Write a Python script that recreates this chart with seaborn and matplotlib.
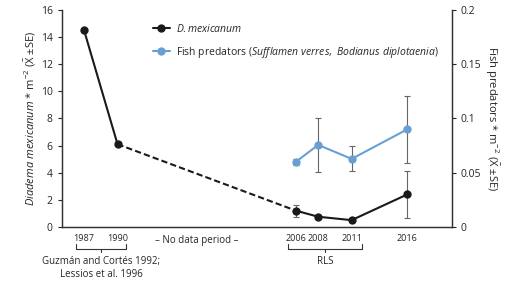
import seaborn as sns
import matplotlib.pyplot as plt
import matplotlib.transforms as mtransforms
import pandas as pd

sns.set_style("ticks")
plt.rcParams['font.family'] = ['Open Sans', 'DejaVu Sans']
plt.rcParams['mathtext.fontset'] = 'custom'
plt.rcParams['mathtext.rm'] = 'Open Sans'
plt.rcParams['mathtext.it'] = 'Open Sans:italic'

# D. mexicanum density (left axis)
years_dm = [1987, 1990, 2006, 2008, 2011, 2016]
dm_mean = [14.5, 6.1, 1.2, 0.75, 0.5, 2.4]
dm_se = [0, 0, 0.45, 0.15, 0.1, 1.75]

# fish predators density (right axis)
years_fish = [2006, 2008, 2011, 2016]
fish_mean = [0.060, 0.0756, 0.0627, 0.090]
fish_se = [0.003, 0.025, 0.0115, 0.031]

xticks = [1987, 1990, 2006, 2008, 2011, 2016]

dm = pd.DataFrame({'year': years_dm, 'mean': dm_mean, 'se': dm_se})
fish = pd.DataFrame({'year': years_fish, 'mean': fish_mean, 'se': fish_se})

black = '#1a1a1a'
blue = '#6a9fd4'

fig = plt.figure(figsize=(5.28, 2.84), dpi=100)
ax = fig.add_axes([0.117, 0.201, 0.739, 0.764])
ax2 = ax.twinx()

# error bars
ax.errorbar(dm['year'], dm['mean'], yerr=dm['se'], fmt='none', ecolor='#666666',
            elinewidth=0.8, capsize=2, capthick=0.8, zorder=2)
ax2.errorbar(fish['year'], fish['mean'], yerr=fish['se'], fmt='none', ecolor='#666666',
             elinewidth=0.8, capsize=2, capthick=0.8, zorder=2)

# D. mexicanum lines: solid, dashed gap, solid
sns.lineplot(data=dm.iloc[0:2], x='year', y='mean', ax=ax, color=black, lw=1.5,
             marker='o', markersize=6, markeredgewidth=0, label='$\\it{D. mexicanum}$')
sns.lineplot(data=dm.iloc[1:3], x='year', y='mean', ax=ax, color=black, lw=1.5,
             linestyle=(0, (3, 1.5)), legend=False)
sns.lineplot(data=dm.iloc[2:], x='year', y='mean', ax=ax, color=black, lw=1.5,
             marker='o', markersize=6, markeredgewidth=0, legend=False)

sns.lineplot(data=fish, x='year', y='mean', ax=ax2, color=blue, lw=1.5,
             marker='o', markersize=6, markeredgewidth=0,
             label='Fish predators ($\\it{Sufflamen\\ verres,\\ Bodianus\\ diplotaenia}$)')

ax.set_xlim(1985, 2020)
ax.set_ylim(0, 16)
ax.set_yticks(range(0, 17, 2))
ax2.set_ylim(0, 0.2)
ax2.set_yticks([0, 0.05, 0.1, 0.15, 0.2])
ax2.set_yticklabels(['0', '0.05', '0.1', '0.15', '0.2'])
ax.set_xticks(xticks)
ax.set_xticklabels([str(x) for x in xticks])
ax.tick_params(axis='x', length=0, labelsize=6.5, pad=5)
ax.tick_params(axis='y', length=3, labelsize=7.5, width=0.8)
ax2.tick_params(axis='y', length=3, labelsize=7.5, width=0.8)

ax.set_xlabel('')
ax.set_ylabel('$\\it{Diadema\\ mexicanum}$ * m$^{-2}$ ($\\mathrm{\\bar{X}}$ ±SE)', fontsize=8, labelpad=2)
ax2.set_ylabel('Fish predators * m$^{-2}$ ($\\mathrm{\\bar{X}}$ ±SE)', fontsize=8, rotation=-90, labelpad=13)

for a in (ax, ax2):
    a.spines['top'].set_visible(False)
    for s in ('left', 'right', 'bottom'):
        a.spines[s].set_linewidth(0.9)
        a.spines[s].set_color('#333333')

# legend
h1, l1 = ax.get_legend_handles_labels()
h2, l2 = ax2.get_legend_handles_labels()
if ax.get_legend() is not None:
    ax.get_legend().remove()
ax2.legend(h1 + h2, l1 + l2, loc='upper left', bbox_to_anchor=(0.21, 0.985), frameon=False,
           fontsize=7.5, handlelength=1.6, labelspacing=1.0, handletextpad=0.6)

# annotations under the axis
trans = mtransforms.blended_transform_factory(ax.transData, ax.transAxes)
ax.text(1997.1, -0.062, '– No data period –', transform=trans, ha='center', va='center', fontsize=7)

def bracket(x0, x1, y, label, ly):
    xm = (x0 + x1) / 2
    kw = dict(transform=trans, color='#333333', lw=0.8, clip_on=False)
    ax.plot([x0, x1], [y, y], **kw)
    ax.plot([x0, x0], [y, y + 0.02], **kw)
    ax.plot([x1, x1], [y, y + 0.02], **kw)
    ax.plot([xm, xm], [y, y - 0.015], **kw)
    ax.text(xm, ly, label, transform=trans, ha='center', va='top', fontsize=7, linespacing=1.25)

bracket(1986.3, 1990.8, -0.1, 'Guzmán and Cortés 1992;\nLessios et al. 1996', -0.135)
bracket(2005.3, 2011.9, -0.1, 'RLS', -0.135)

fig.savefig('out.png', dpi=100)
